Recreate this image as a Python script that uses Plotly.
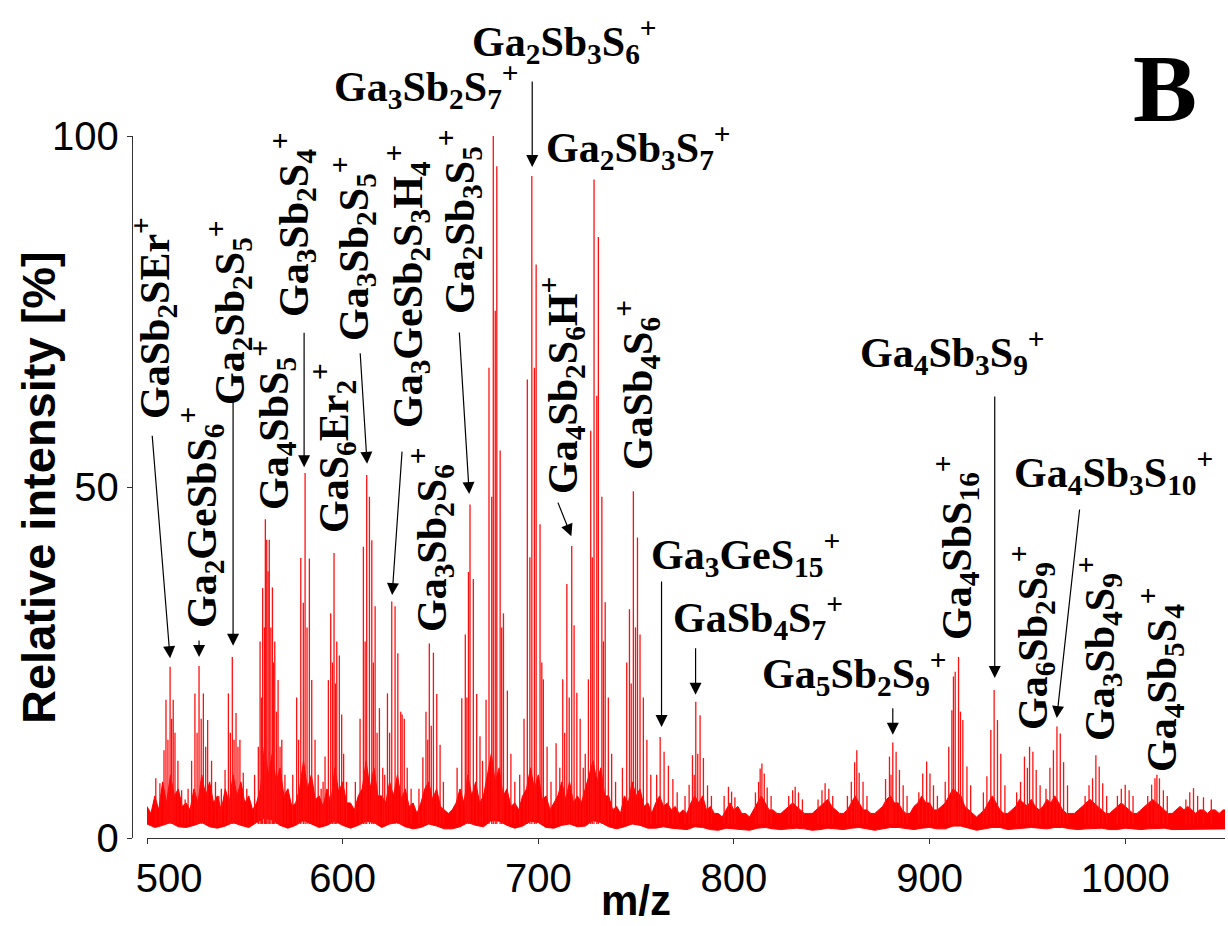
import plotly.graph_objects as go

# ---------------- data ----------------
# isotope-cluster peaks (m/z, relative intensity %)
peak_mz = [
    504.5, 506.6, 508.7, 509.7, 510.7, 511.8, 512.6, 513.4, 514.3, 515.8, 517.7, 519.5,
    521.0, 522.8, 524.5, 525.6, 526.6, 527.7, 528.8, 530.0, 531.0, 533.0, 535.0, 536.7,
    538.0, 539.9, 541.6, 542.6, 543.6, 544.5, 545.5, 546.5, 547.5, 549.2, 551.0,
    555.0, 556.9, 557.8, 558.5, 559.1, 560.0, 560.5, 561.2, 561.9, 562.5, 563.3, 564.1,
    564.7, 565.3, 566.2, 567.0, 568.0, 568.9, 570.5, 572.0,
    574.5, 576.5, 577.5, 578.6, 579.9, 580.8, 581.8, 583.0, 584.2, 585.9, 587.5, 589.0,
    590.0, 591.0, 592.7, 593.9, 594.8, 595.6, 596.3, 597.0, 598.3, 599.5, 600.5, 602.0,
    606.5, 608.9, 610.6, 611.5, 612.3, 613.7, 614.9, 615.7, 616.6, 617.6, 618.8, 620.5,
    621.5, 622.9, 624.0, 625.1, 626.8, 628.2, 629.7, 630.4, 631.5, 633.0, 635.0,
    639.0, 641.0, 642.6, 643.5, 644.3, 645.3, 646.4, 648.1, 649.8, 651.5,
    658.5, 660.9, 662.7, 663.5, 664.3, 665.1, 666.8, 668.5, 670.2,
    671.5, 673.3, 674.8, 676.2, 677.0, 678.0, 678.8, 680.5, 681.3, 682.2, 684.2, 686.0, 688.0,
    690.5, 692.7, 694.4, 695.7, 696.7, 698.0, 698.9, 700.9, 701.8, 702.6, 704.5, 706.5,
    709.1, 711.0, 712.5, 713.5, 714.6, 715.8, 717.1, 718.3, 719.7, 721.4, 723.0,
    724.0, 725.6, 726.8, 727.6, 728.5, 729.9, 730.7, 732.5, 733.3, 734.2, 735.8, 737.5, 739.5,
    743.0, 745.2, 746.6, 747.5, 748.6, 749.7, 750.7, 752.0, 753.7, 755.5, 757.5,
    760.5, 762.3, 764.3, 766.5, 768.8, 771.0,
    775.0, 777.1, 778.8, 779.7, 780.5, 781.5, 782.7, 784.4, 786.5, 788.5,
    795.0, 797.2, 798.8, 800.5,
    811.0, 812.6, 813.4, 814.3, 815.5, 817.0, 819.0,
    828.0, 830.0, 831.3, 833.0, 835.0,
    843.0, 845.0, 846.6, 848.5, 850.5,
    858.0, 860.0, 861.7, 862.8, 864.0, 866.0, 868.0,
    877.5, 879.5, 880.3, 881.2, 882.9, 884.6, 886.5, 888.5,
    894.5, 896.5, 898.5, 900.2, 902.0, 904.0,
    908.0, 909.8, 911.4, 912.2, 913.1, 914.8, 915.8, 917.0, 919.1, 921.0,
    927.5, 929.3, 931.3, 933.0, 934.7, 936.4, 938.5,
    944.5, 946.5, 948.5, 950.0, 951.1, 952.8, 954.5, 956.5,
    959.5, 961.5, 963.3, 965.1, 966.8, 968.5, 970.5,
    979.5, 981.5, 983.3, 985.0, 986.7, 988.5, 990.5,
    996.0, 998.0, 1000.0, 1002.0, 1004.0,
    1011.5, 1013.5, 1015.2, 1016.2, 1017.5, 1019.5, 1021.5,
    1031.0, 1033.0, 1034.9, 1037.0, 1040.0, 1044.0,
]
peak_pct = [
    8.5, 7.8, 12.5, 19.7, 14.0, 24.4, 17.0, 19.7, 15.0, 11.0, 6.8, 5.5,
    7.0, 11.0, 20.6, 15.0, 24.5, 17.0, 20.6, 13.0, 16.8, 11.0, 8.0, 6.0,
    7.0, 9.7, 20.6, 15.0, 25.8, 14.0, 17.8, 13.0, 14.0, 9.3, 7.0,
    9.0, 13.0, 28.0, 20.0, 35.6, 30.0, 45.4, 42.5, 38.0, 42.5, 30.0, 35.7,
    25.0, 28.0, 18.0, 22.5, 13.0, 14.0, 9.0, 7.0,
    9.0, 20.0, 14.0, 39.9, 33.5, 52.0, 30.0, 39.8, 22.5, 14.0, 9.0, 7.0,
    8.0, 11.6, 22.5, 32.0, 25.0, 40.6, 22.0, 28.0, 26.0, 17.6, 12.0, 8.0,
    8.0, 17.0, 41.5, 28.0, 51.7, 48.6, 42.4, 25.0, 33.0, 15.0, 18.5, 10.0,
    9.0, 20.6, 15.0, 33.7, 33.0, 26.3, 18.0, 17.6, 17.0, 10.0, 7.0,
    7.0, 11.5, 18.0, 14.0, 27.7, 16.0, 26.4, 20.5, 13.3, 8.0,
    10.0, 19.9, 29.0, 20.0, 37.9, 47.5, 36.9, 20.5, 14.5,
    11.0, 19.7, 67.0, 48.6, 100.0, 75.1, 95.7, 55.2, 30.0, 32.0, 21.0, 12.0, 8.0,
    9.0, 17.0, 65.3, 40.0, 94.3, 67.0, 81.7, 44.7, 25.0, 22.6, 13.0, 8.0,
    13.5, 10.0, 22.6, 15.0, 36.2, 20.0, 41.6, 30.3, 20.7, 17.0, 10.0,
    12.0, 22.6, 58.0, 40.0, 93.8, 63.0, 85.6, 48.6, 28.0, 33.6, 20.0, 12.0, 8.0,
    10.0, 25.0, 32.6, 22.0, 49.4, 30.0, 42.8, 29.0, 20.0, 14.0, 9.0,
    9.0, 14.4, 12.3, 10.3, 8.4, 6.5,
    6.0, 7.6, 11.8, 9.0, 19.4, 12.0, 17.5, 11.4, 7.5, 6.0,
    6.0, 7.3, 6.6, 5.8,
    6.5, 8.0, 9.9, 10.6, 9.2, 7.2, 6.0,
    6.0, 6.8, 7.3, 6.5, 5.5,
    5.5, 6.8, 7.8, 7.0, 6.0,
    6.0, 8.0, 10.8, 12.5, 9.3, 8.0, 6.0,
    8.4, 11.6, 9.0, 13.6, 12.3, 9.7, 7.5, 6.0,
    6.5, 9.2, 10.9, 9.2, 7.5, 6.0,
    8.0, 13.0, 18.2, 23.0, 23.7, 25.8, 18.0, 16.8, 10.2, 7.5,
    6.5, 8.8, 15.4, 21.1, 16.8, 12.0, 7.5,
    6.5, 8.0, 11.6, 10.0, 13.0, 12.3, 9.7, 7.5,
    7.0, 10.0, 12.5, 15.9, 14.9, 10.8, 7.5,
    6.0, 7.5, 8.5, 11.8, 10.2, 7.8, 6.0,
    6.0, 7.0, 7.6, 6.8, 6.0,
    6.0, 7.6, 8.5, 9.0, 8.5, 6.8, 6.0,
    5.5, 6.5, 7.1, 6.0, 5.8, 5.5,
]

# noise-floor band: upper edge every 2 m/z, lower edge every 4 m/z (%)
hi_mz = list(range(500, 1053, 2))
env_hi = [
    4.5, 3.5, 6, 4, 8, 5, 9, 6, 7, 4.5,
    5, 4, 7, 5, 9, 6, 8, 5, 6, 4,
    7, 5, 9, 6, 8, 5, 6, 4, 5, 7,
    13, 9, 12, 8, 10, 6, 7, 4.5, 5, 7,
    11, 7, 9, 5.5, 6, 4.5, 7, 5, 10, 6.5,
    8, 5, 5, 4, 6, 7, 11, 7, 10, 6,
    6, 5, 8, 6, 9, 5.5, 7, 4.5, 5, 3.5,
    5, 7, 8, 5.5, 7, 4.5, 4, 3.5, 4, 5,
    7, 5, 9, 6, 8, 5, 6, 9, 12, 8,
    10, 6, 7, 4.5, 5, 4, 6, 7, 10, 7,
    9, 5.5, 6, 4, 5, 6, 8, 5.5, 8, 5,
    6, 5, 7, 9, 11, 8, 10, 6, 6, 4,
    4.5, 3.5, 6, 5, 8, 6, 7, 4.5, 5, 3.5,
    5, 6, 4.5, 5, 4, 4.5, 3.5, 4, 3.5, 5,
    6, 5, 6, 4, 4.5, 3.5, 3.5, 3, 4, 5,
    4, 4.5, 3.5, 3.5, 3, 4, 5, 6, 5, 4,
    4, 3.5, 3.5, 4, 4.5, 5, 4.5, 4, 3.5, 3.5,
    3.5, 4, 4.5, 5, 5.5, 4.5, 4, 3.5, 3.5, 4,
    5, 6, 5, 4, 4, 3.5, 3.5, 4, 4.5, 5.5,
    6, 5, 5, 4, 3.5, 3.5, 4.5, 5, 6, 5,
    5, 4, 4, 4.5, 5, 6, 7, 6.5, 6, 4.5,
    4, 3.5, 3, 3.5, 4, 5, 6, 5, 4, 3.5,
    3.5, 4, 4.5, 5.5, 5, 4.5, 5.5, 4.5, 4, 4.5,
    5.5, 5, 6, 5, 4, 3.5, 3.5, 3.5, 4, 4.5,
    5, 5.5, 5, 4.5, 4, 3.5, 3.5, 4, 4.5, 5,
    4.5, 4, 3.5, 3.5, 4, 4.5, 5, 5.5, 5, 4.5,
    4, 3.5, 3.5, 4, 4.5, 4, 4.5, 4, 3.5, 4,
    4, 3.5, 4, 4, 3.5, 4, 4,
]
lo_mz = list(range(500, 1053, 4))
env_lo = [
    2, 1.5, 1.8, 2.2, 1.6, 1.5, 1.8, 2.2, 1.6, 1.4, 1.7, 2.2, 1.8, 1.5, 2.2, 2.8, 2.6, 1.8, 1.4, 1.8, 2.5, 2, 1.5, 1.8, 2.4,
    1.8, 1.4, 1.8, 2.4, 2.2, 1.5, 2, 2.2, 1.6, 1.3, 1.5, 2, 1.7, 1.3, 1.3, 1.6, 2.2, 1.8, 1.6, 2.5, 2.4, 1.8, 1.4, 1.7, 2.4,
    2.2, 1.5, 1.4, 1.8, 2, 1.6, 1.7, 2.5, 2.2, 1.6, 1.3, 1.6, 2, 1.8, 1.4, 1.4, 1.6, 1.4, 1.3, 1.2, 1.6, 1.5, 1.2, 1.1, 1.4,
    1.3, 1.2, 1.1, 1.4, 1.5, 1.3, 1.2, 1.3, 1.4, 1.3, 1.1, 1.2, 1.4, 1.3, 1.2, 1.4, 1.5, 1.3, 1.1, 1.3, 1.5, 1.5, 1.3, 1.2, 1.4,
    1.5, 1.3, 1.3, 1.7, 1.7, 1.4, 1.1, 1.3, 1.5, 1.5, 1.2, 1.3, 1.4, 1.5, 1.4, 1.3, 1.5, 1.5, 1.3, 1.2, 1.3, 1.4, 1.4, 1.2, 1.2,
    1.4, 1.3, 1.2, 1.3, 1.4, 1.4, 1.2, 1.2, 1.3, 1.3, 1.2, 1.2, 1.2, 1.3,
]
stick_base = 2.0

x_ticks = [500, 600, 700, 800, 900, 1000]
x_ticktext = ["\u00a0\u00a0\u00a0\u00a0500", "600", "700", "800", "900", "1000"]
y_ticks = [0, 50, 100]
y_ticktext = ["0", "50", "100"]

# ion labels: (text, centre px, centre py, angle)
labels = [
    ("GaSb<sub>2</sub>SEr<sup>+</sup>", 154, 318, -90),
    ("Ga<sub>2</sub>GeSbS<sub>6</sub><sup>+</sup>", 201, 518, -90),
    ("Ga<sub>2</sub>Sb<sub>2</sub>S<sub>5</sub><sup>+</sup>", 229, 313, -90),
    ("Ga<sub>4</sub>SbS<sub>5</sub><sup>+</sup>", 273, 425, -90),
    ("Ga<sub>3</sub>Sb<sub>2</sub>S<sub>4</sub><sup>+</sup>", 293, 225, -90),
    ("GaS<sub>6</sub>Er<sub>2</sub><sup>+</sup>", 333, 448, -90),
    ("Ga<sub>3</sub>Sb<sub>2</sub>S<sub>5</sub><sup>+</sup>", 353, 249, -90),
    ("Ga<sub>3</sub>GeSb<sub>2</sub>S<sub>3</sub>H<sub>4</sub><sup>+</sup>", 407, 287, -90),
    ("Ga<sub>3</sub>Sb<sub>2</sub>S<sub>6</sub><sup>+</sup>", 431, 540, -90),
    ("Ga<sub>2</sub>Sb<sub>3</sub>S<sub>5</sub><sup>+</sup>", 459, 222, -90),
    ("Ga<sub>4</sub>Sb<sub>2</sub>S<sub>6</sub>H<sup>+</sup>", 562, 386, -90),
    ("GaSb<sub>4</sub>S<sub>6</sub><sup>+</sup>", 637, 385, -90),
    ("Ga<sub>4</sub>SbS<sub>16</sub><sup>+</sup>", 956, 548, -90),
    ("Ga<sub>6</sub>Sb<sub>2</sub>S<sub>9</sub><sup>+</sup>", 1032, 638, -90),
    ("Ga<sub>3</sub>Sb<sub>4</sub>S<sub>9</sub><sup>+</sup>", 1099, 649, -90),
    ("Ga<sub>4</sub>Sb<sub>5</sub>S<sub>4</sub><sup>+</sup>", 1161, 680, -90),
    ("Ga<sub>3</sub>GeS<sub>15</sub><sup>+</sup>", 745, 554, 0),
    ("GaSb<sub>4</sub>S<sub>7</sub><sup>+</sup>", 758, 617, 0),
    ("Ga<sub>5</sub>Sb<sub>2</sub>S<sub>9</sub><sup>+</sup>", 854, 673, 0),
    ("Ga<sub>4</sub>Sb<sub>3</sub>S<sub>9</sub><sup>+</sup>", 952, 352, 0),
    ("Ga<sub>4</sub>Sb<sub>3</sub>S<sub>10</sub><sup>+</sup>", 1113, 472, 0),
    ("Ga<sub>2</sub>Sb<sub>3</sub>S<sub>6</sub><sup>+</sup>", 564, 41, 0),
    ("Ga<sub>3</sub>Sb<sub>2</sub>S<sub>7</sub><sup>+</sup>", 426, 86, 0),
    ("Ga<sub>2</sub>Sb<sub>3</sub>S<sub>7</sub><sup>+</sup>", 638, 147, 0),
]

# arrows: tip at (m/z, %) and tail offset in pixels
arrows = [
    (511.8, 25.6, -18, -224),
    (526.6, 25.8, 0, -18),
    (544.0, 27.4, 0, -245),
    (580.3, 52.8, 0, -136),
    (612.5, 53.3, -7, -112),
    (625.3, 34.6, 10, -145),
    (664.7, 49.0, -10, -163),
    (716.9, 43.0, -14, -35),
    (677.0, 101.1, 0, -21),
    (696.9, 95.6, 0, -87),
    (763.0, 15.8, 0, -147),
    (780.4, 20.4, 0, -48),
    (881.2, 14.7, 0, -28),
    (933.3, 22.8, 0, -283),
    (965.0, 17.1, 23, -210),
]

# ---------------- figure ----------------
W, H = 1228, 926
ML, MR, MT, MB = 132, 3, 136, 88
PW, PH = W - ML - MR, H - MT - MB


def paper(px, py):
    return (px - ML) / PW, (H - MB - py) / PH


stick_x, stick_y = [], []
for m, p in zip(peak_mz, peak_pct):
    stick_x += [m, m, None]
    stick_y += [stick_base, p, None]

fig = go.Figure()
fig.add_trace(go.Scatter(x=lo_mz, y=env_lo, mode="lines",
                         line=dict(color="#ff0000", width=1), hoverinfo="skip"))
fig.add_trace(go.Scatter(x=hi_mz, y=env_hi, mode="lines", fill="tonexty",
                         fillcolor="#ff0000", line=dict(color="#ff0000", width=1),
                         hoverinfo="skip"))
fig.add_trace(go.Scatter(x=stick_x, y=stick_y, mode="lines",
                         line=dict(color="#ff1010", width=1.3), hoverinfo="skip"))

ann = []
lab_font = dict(family="Liberation Serif", size=42, color="black", weight="bold")
for txt, px, py, ang in labels:
    xp, yp = paper(px, py)
    ann.append(dict(text=txt, x=xp, y=yp, xref="paper", yref="paper",
                    xanchor="center", yanchor="middle", textangle=ang,
                    showarrow=False, font=lab_font))

for m, p, dx, dy in arrows:
    ann.append(dict(text="", x=m, y=p, xref="x", yref="y", ax=dx, ay=dy,
                    showarrow=True, arrowhead=2, arrowsize=2.0, arrowwidth=1.2,
                    arrowcolor="black", standoff=0))

# axis titles and panel letter
xp, yp = paper(39, 488)
ann.append(dict(text="Relative intensity [%]", x=xp, y=yp, xref="paper", yref="paper",
                xanchor="center", yanchor="middle", textangle=-90, showarrow=False,
                font=dict(family="Liberation Sans", size=47, color="black", weight="bold")))
xp, yp = paper(636, 901)
ann.append(dict(text="m/z", x=xp, y=yp, xref="paper", yref="paper",
                xanchor="center", yanchor="middle", showarrow=False,
                font=dict(family="Liberation Sans", size=42, color="black", weight="bold")))
xp, yp = paper(1165, 88)
ann.append(dict(text="B", x=xp, y=yp, xref="paper", yref="paper",
                xanchor="center", yanchor="middle", showarrow=False,
                font=dict(family="Liberation Serif", size=96, color="black", weight="bold")))

tick_font = dict(family="Liberation Sans", size=40, color="black")
fig.update_layout(
    width=W, height=H, margin=dict(l=ML, r=MR, t=MT, b=MB),
    paper_bgcolor="white", plot_bgcolor="white", showlegend=False,
    annotations=ann,
    xaxis=dict(domain=[15 / PW, 1], range=[500, 1051], tickvals=x_ticks, ticktext=x_ticktext,
               ticks="outside", ticklen=5, tickwidth=1.2, tickcolor="#333",
               showline=True, linecolor="#333", linewidth=1.3, showgrid=False,
               zeroline=False, tickfont=tick_font, anchor="y"),
    yaxis=dict(range=[0, 100], tickvals=y_ticks, ticktext=y_ticktext,
               ticks="outside", ticklen=5, tickwidth=1.2, tickcolor="#333",
               showline=True, linecolor="#333", linewidth=1.3, showgrid=False,
               zeroline=False, tickfont=tick_font, anchor="free", position=0),
)

fig.write_html("out.html", config={"displayModeBar": False},
               post_script="document.body.style.margin='0';document.body.style.padding='0';")
